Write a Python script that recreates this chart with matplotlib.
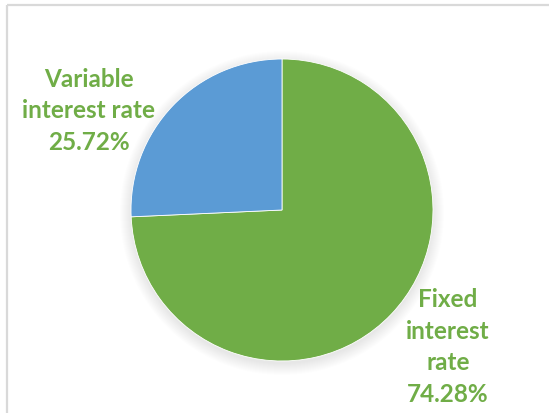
import matplotlib
matplotlib.use("AGG")
import matplotlib.pyplot as plt
from matplotlib.patches import Circle

# loan split by interest type
categories = ['Fixed\ninterest\nrate', 'Variable\ninterest rate']
shares = [74.28, 25.72]
colors = ['#70AD47', '#5B9BD5']
label_color = '#70AD47'

W, H = 549, 414
fig = plt.figure(figsize=(W / 100, H / 100), dpi=100)
ax = fig.add_axes([0, 0, 1, 1])

cx, cy, r = 282, H - 211, 151

# soft shadow behind the pie
for i in range(12):
    ax.add_patch(Circle((cx, cy - 3), r + i, color='black', alpha=0.009, lw=0, zorder=0))
ax.add_patch(Circle((cx, cy), r, color='white', lw=0, zorder=0.5))

ax.pie(shares, colors=colors, startangle=90, counterclock=False,
       center=(cx, cy), radius=r, frame=True,
       wedgeprops=dict(edgecolor='white', linewidth=0.6))
ax.set_xlim(0, W)
ax.set_ylim(0, H)
ax.set_aspect('equal')
ax.axis('off')

# data labels
label_pos = [(448, H - 347), (89, H - 111)]
for name, val, (x, y) in zip(categories, shares, label_pos):
    ax.text(x, y, f'{name}\n{val:.2f}%', ha='center', va='center',
            color=label_color, fontsize=17.5, fontweight='bold', family='Lato',
            linespacing=1.45)

# chart frame (only top and left edges visible)
ax.plot([7, W], [H - 5.5, H - 5.5], color='#D9D9D9', lw=1.6, solid_capstyle='butt')
ax.plot([7, 7], [0, H - 5.5], color='#D9D9D9', lw=1.6, solid_capstyle='butt')

fig.savefig('out.png', dpi=100)
